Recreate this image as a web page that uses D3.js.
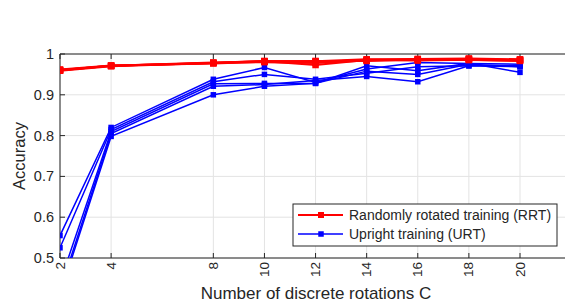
<!DOCTYPE html>
<html>
<head>
<meta charset="utf-8">
<script src="https://cdn.jsdelivr.net/npm/d3@7"></script>
<style>
  body { margin: 0; background: #fff; }
  text { font-family: "Liberation Sans", Arial, sans-serif; fill: #262626; }
</style>
</head>
<body>
<div id="chart"></div>
<script>
// rotations C on the x axis
var rotations = [2, 4, 8, 10, 12, 14, 16, 18, 20];
var yTicks = [0.5, 0.6, 0.7, 0.8, 0.9, 1];

// randomly rotated training, several runs
var rrtRuns = [
  [0.960, 0.971, 0.978, 0.983, 0.982, 0.987, 0.988, 0.989, 0.987],
  [0.961, 0.971, 0.979, 0.982, 0.973, 0.985, 0.986, 0.985, 0.984],
  [0.959, 0.970, 0.978, 0.980, 0.978, 0.984, 0.985, 0.988, 0.985],
  [0.962, 0.972, 0.977, 0.981, 0.980, 0.986, 0.984, 0.986, 0.983],
  [0.960, 0.971, 0.978, 0.982, 0.983, 0.983, 0.987, 0.987, 0.986]
];

// upright training, several runs
var urtRuns = [
  [0.555, 0.820, 0.938, 0.967, 0.930, 0.963, 0.979, 0.977, 0.975],
  [0.525, 0.815, 0.932, 0.950, 0.938, 0.953, 0.969, 0.971, 0.969],
  [0.440, 0.810, 0.927, 0.928, 0.928, 0.971, 0.959, 0.977, 0.955],
  [0.420, 0.805, 0.921, 0.925, 0.935, 0.945, 0.932, 0.971, 0.972],
  [0.410, 0.798, 0.900, 0.921, 0.928, 0.958, 0.950, 0.975, 0.969]
];

var width = 565, height = 306;
var margin = {left: 60, top: 54, bottom: 48};

var svg = d3.select("#chart").append("svg")
  .attr("width", width)
  .attr("height", height);

var x = d3.scaleLinear().domain([2, 20]).range([60, 520]);
var y = d3.scaleLinear().domain([0.5, 1]).range([height - margin.bottom, margin.top]);
var xEnd = width;

svg.append("clipPath").attr("id", "plotclip")
  .append("rect")
  .attr("x", 60).attr("y", margin.top - 5)
  .attr("width", xEnd - 60).attr("height", y(0.5) - margin.top + 5);

// grid
var grid = svg.append("g").attr("stroke", "#e3e3e3").attr("stroke-width", 1);
grid.selectAll(".vx").data(rotations).enter().append("line")
  .attr("x1", d => x(d)).attr("x2", d => x(d))
  .attr("y1", y(1)).attr("y2", y(0.5));
grid.selectAll(".hy").data(yTicks).enter().append("line")
  .attr("x1", 60).attr("x2", xEnd)
  .attr("y1", d => y(d)).attr("y2", d => y(d));

// axes box lines
var axisCol = "#262626";
svg.append("line").attr("x1", 60).attr("x2", xEnd).attr("y1", y(1)).attr("y2", y(1))
  .attr("stroke", axisCol);
svg.append("line").attr("x1", 60).attr("x2", xEnd).attr("y1", y(0.5)).attr("y2", y(0.5))
  .attr("stroke", axisCol);
svg.append("line").attr("x1", 60).attr("x2", 60).attr("y1", y(1)).attr("y2", y(0.5))
  .attr("stroke", axisCol);

// ticks inward
rotations.forEach(function(r) {
  svg.append("line").attr("x1", x(r)).attr("x2", x(r))
    .attr("y1", y(0.5)).attr("y2", y(0.5) - 5).attr("stroke", axisCol);
  svg.append("line").attr("x1", x(r)).attr("x2", x(r))
    .attr("y1", y(1)).attr("y2", y(1) + 5).attr("stroke", axisCol);
});
yTicks.forEach(function(t) {
  svg.append("line").attr("x1", 60).attr("x2", 65)
    .attr("y1", y(t)).attr("y2", y(t)).attr("stroke", axisCol);
});

// tick labels
svg.selectAll(".ylab").data(yTicks).enter().append("text")
  .attr("x", 54).attr("y", d => y(d))
  .attr("dy", "0.35em")
  .attr("text-anchor", "end")
  .attr("font-size", 14.5)
  .text(d => d === 1 ? "1" : d.toFixed(1));

svg.selectAll(".xlab").data(rotations).enter().append("text")
  .attr("transform", d => "translate(" + (x(d) + 4.5) + "," + (y(0.5) + 4) + ") rotate(-90)")
  .attr("text-anchor", "end")
  .attr("font-size", 13.5)
  .text(d => d);

// axis titles
svg.append("text")
  .attr("x", 316).attr("y", 299)
  .attr("text-anchor", "middle")
  .attr("font-size", 17)
  .text("Number of discrete rotations C");

svg.append("text")
  .attr("transform", "translate(25," + ((y(1) + y(0.5)) / 2) + ") rotate(-90)")
  .attr("text-anchor", "middle")
  .attr("font-size", 16.5)
  .text("Accuracy");

// series
var line = d3.line()
  .x((d, i) => x(rotations[i]))
  .y(d => y(d));

var plot = svg.append("g").attr("clip-path", "url(#plotclip)");

function drawRuns(runs, color, lw, ms) {
  runs.forEach(function(run) {
    plot.append("path")
      .datum(run)
      .attr("d", line)
      .attr("fill", "none")
      .attr("stroke", color)
      .attr("stroke-width", lw);
    plot.selectAll(null).data(run).enter().append("rect")
      .attr("x", (d, i) => x(rotations[i]) - ms / 2)
      .attr("y", d => y(d) - ms / 2)
      .attr("width", ms).attr("height", ms)
      .attr("fill", color);
  });
}

drawRuns(urtRuns, "#0000ff", 1.5, 5.5);
drawRuns(rrtRuns, "#ff0000", 2, 6.5);

// legend
var lg = svg.append("g");
lg.append("rect")
  .attr("x", 293).attr("y", 204)
  .attr("width", 264).attr("height", 42)
  .attr("fill", "#fff").attr("stroke", axisCol);

var legendItems = [
  {label: "Randomly rotated training (RRT)", color: "#ff0000", lw: 2, ms: 6},
  {label: "Upright training (URT)", color: "#0000ff", lw: 1.5, ms: 5.5}
];
legendItems.forEach(function(it, i) {
  var ly = 215 + i * 19;
  lg.append("line").attr("x1", 298).attr("x2", 343)
    .attr("y1", ly).attr("y2", ly)
    .attr("stroke", it.color).attr("stroke-width", it.lw);
  lg.append("rect").attr("x", 321 - it.ms / 2).attr("y", ly - it.ms / 2)
    .attr("width", it.ms).attr("height", it.ms).attr("fill", it.color);
  lg.append("text").attr("x", 349).attr("y", ly)
    .attr("dy", "0.35em")
    .attr("font-size", 14)
    .attr("fill", "#000")
    .text(it.label);
});
</script>
</body>
</html>
